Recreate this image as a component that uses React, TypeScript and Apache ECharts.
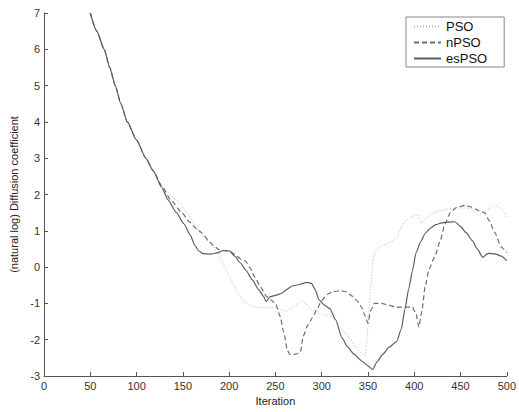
import React, { useEffect, useRef } from "react";
import * as echarts from "echarts";

const xTicks = [0, 50, 100, 150, 200, 250, 300, 350, 400, 450, 500];
const yTicks = [-3, -2, -1, 0, 1, 2, 3, 4, 5, 6, 7];

const seriesNames = ["PSO", "nPSO", "esPSO"];

// shared early decay (all three algorithms overlap)
const commonStart: [number, number][] = [
  [50, 7.0], [57, 6.5], [65, 6.0], [71, 5.5], [77, 5.0], [83, 4.5],
  [90, 4.0], [100, 3.5], [110, 3.0], [118, 2.65],
];

const psoData: [number, number][] = [
  [126, 2.3], [134, 2.05], [143, 1.85], [155, 1.5], [162, 1.2], [169, 0.94],
  [176, 0.75], [182, 0.57], [187, 0.42], [191, 0.25], [196, -0.05], [200, -0.25],
  [205, -0.5], [210, -0.75], [215, -0.92], [221, -1.03], [228, -1.1], [233, -1.12],
  [240, -1.1], [250, -1.12], [257, -1.18], [263, -1.22], [270, -1.05], [278, -0.95],
  [283, -1.0], [288, -1.15], [294, -1.25], [300, -1.3], [306, -1.32], [312, -1.38],
  [318, -1.55], [325, -1.8], [331, -2.0], [337, -2.2], [342, -2.35], [347, -2.45],
  [349, -2.0], [351, -1.2], [353, -0.5], [356, 0.3], [360, 0.5], [367, 0.6],
  [375, 0.7], [381, 0.82], [386, 1.1], [391, 1.3], [397, 1.4], [403, 1.45],
  [408, 1.2], [413, 1.35], [420, 1.48], [428, 1.55], [437, 1.6], [446, 1.63],
  [455, 1.63], [462, 1.6], [469, 1.44], [476, 1.55], [482, 1.62], [488, 1.7],
  [494, 1.6], [500, 1.38],
];

const npsoData: [number, number][] = [
  [128, 2.2], [137, 1.85], [149, 1.5], [157, 1.25], [165, 1.05], [171, 0.94],
  [177, 0.75], [183, 0.6], [189, 0.48], [196, 0.45], [202, 0.42], [208, 0.3],
  [214, 0.2], [218, 0.16], [222, 0.0], [228, -0.28], [234, -0.55], [240, -0.8],
  [245, -0.9], [250, -1.0], [255, -1.35], [259, -1.8], [263, -2.3], [266, -2.42],
  [272, -2.4], [277, -2.35], [280, -1.9], [285, -1.6], [290, -1.4], [295, -1.15],
  [300, -0.92], [306, -0.75], [312, -0.68], [320, -0.65], [327, -0.68], [333, -0.8],
  [338, -0.92], [343, -1.1], [347, -1.35], [350, -1.55], [353, -1.2], [357, -1.0],
  [365, -1.0], [372, -1.05], [380, -1.1], [390, -1.1], [398, -1.1], [402, -1.3],
  [405, -1.65], [408, -1.25], [412, -0.5], [416, -0.05], [422, 0.28], [428, 0.72],
  [433, 1.18], [439, 1.5], [446, 1.65], [455, 1.7], [462, 1.65], [470, 1.55],
  [476, 1.5], [481, 1.28], [487, 0.95], [494, 0.55], [500, 0.4],
];

const espsoData: [number, number][] = [
  [127, 2.2], [134, 1.85], [143, 1.5], [151, 1.2], [158, 0.88], [163, 0.6],
  [167, 0.45], [172, 0.37], [180, 0.36], [187, 0.39], [193, 0.45], [200, 0.45],
  [206, 0.3], [212, 0.12], [218, -0.08], [225, -0.35], [232, -0.62], [237, -0.8],
  [240, -0.95], [244, -0.82], [250, -0.78], [257, -0.72], [262, -0.62], [268, -0.52],
  [276, -0.48], [284, -0.42], [289, -0.45], [293, -0.62], [297, -0.9], [303, -1.05],
  [309, -1.15], [315, -1.45], [322, -1.95], [328, -2.2], [335, -2.4], [344, -2.6],
  [350, -2.72], [355, -2.82], [360, -2.6], [366, -2.4], [373, -2.2], [381, -2.05],
  [386, -1.7], [390, -1.15], [394, -0.6], [398, -0.1], [402, 0.4], [407, 0.7],
  [412, 0.94], [418, 1.08], [423, 1.17], [430, 1.22], [437, 1.24], [444, 1.25],
  [450, 1.12], [456, 0.95], [463, 0.72], [468, 0.5], [474, 0.27], [480, 0.38],
  [488, 0.36], [494, 0.3], [500, 0.17],
];

export default function App() {
  const ref = useRef<HTMLDivElement>(null);
  useEffect(() => {
    if (!ref.current) return;
    const chart = echarts.init(ref.current, undefined, { renderer: "svg" });
    const font = "Liberation Sans, Arial, sans-serif";
    const axisColor = "#555";
    const lineSeries = (name: string, data: [number, number][], color: string, width: number, type: any, z: number) => ({
      name,
      type: "line",
      data,
      symbol: "none",
      showSymbol: false,
      smooth: 0.2,
      smoothMonotone: "x",
      lineStyle: { color, width, type },
      itemStyle: { color },
      z,
    });
    chart.setOption({
      animation: false,
      backgroundColor: "#fff",
      textStyle: { fontFamily: font },
      grid: { left: 44, right: 11, top: 13, bottom: 36 },
      legend: {
        data: seriesNames,
        orient: "vertical",
        left: 406,
        top: 17,
        padding: [3, 17, 2, 7],
        itemWidth: 27,
        itemHeight: 14,
        itemGap: 3,
        borderColor: "#888",
        borderWidth: 1,
        backgroundColor: "#fff",
        itemStyle: { opacity: 0 },
        textStyle: { fontSize: 13, color: "#111", fontFamily: font },
      },
      xAxis: {
        type: "value",
        min: xTicks[0],
        max: xTicks[xTicks.length - 1],
        interval: 50,
        name: "Iteration",
        nameLocation: "middle",
        nameGap: 12,
        nameTextStyle: { fontSize: 11, color: "#222", fontFamily: font },
        axisLine: { show: true, onZero: false, lineStyle: { color: axisColor } },
        axisTick: { show: true, inside: true, length: 4, lineStyle: { color: axisColor } },
        axisLabel: { fontSize: 11, color: "#333", margin: 4, fontFamily: font },
        splitLine: { show: false },
      },
      yAxis: {
        type: "value",
        min: yTicks[0],
        max: yTicks[yTicks.length - 1],
        interval: 1,
        name: "(natural log) Diffusion coefficient",
        nameLocation: "middle",
        nameGap: 18,
        nameTextStyle: { fontSize: 11, color: "#222", fontFamily: font },
        axisLine: { show: true, onZero: false, lineStyle: { color: axisColor } },
        axisTick: { show: true, inside: true, length: 4, lineStyle: { color: axisColor } },
        axisLabel: { fontSize: 11, color: "#333", margin: 4, fontFamily: font },
        splitLine: { show: false },
      },
      series: [
        lineSeries(seriesNames[0], [...commonStart, ...psoData], "#b4b4b4", 1, [1, 2], 2),
        lineSeries(seriesNames[1], [...commonStart, ...npsoData], "#6e6e6e", 1.2, [5, 3], 3),
        lineSeries(seriesNames[2], [...commonStart, ...espsoData], "#5e5e5e", 1.2, "solid", 4),
      ],
    });
    return () => chart.dispose();
  }, []);
  return (
    <div
      ref={ref}
      style={{ position: "fixed", left: 0, top: 0, width: 519, height: 412 }}
    />
  );
}
